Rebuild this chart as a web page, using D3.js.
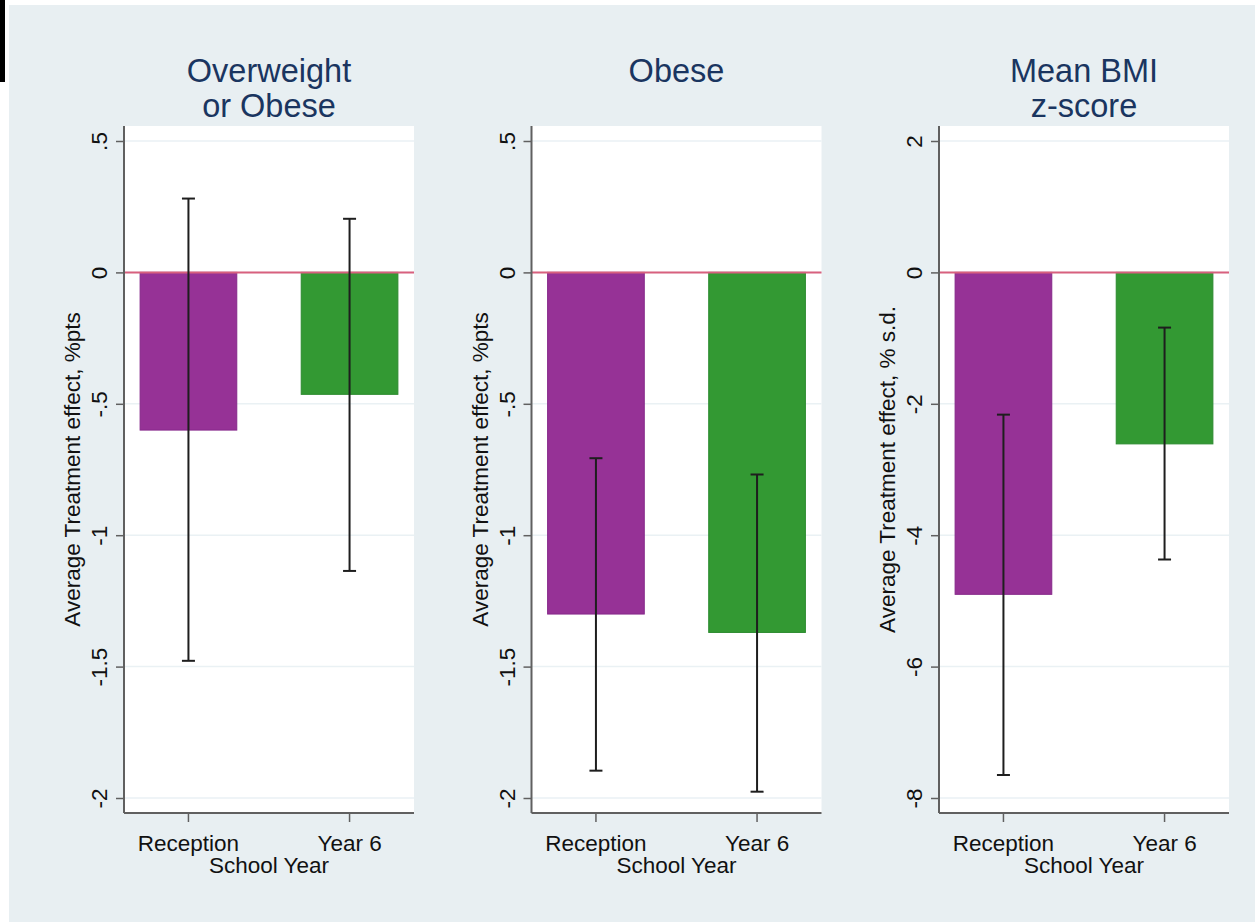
<!DOCTYPE html>
<html>
<head>
<meta charset="utf-8">
<script src="https://cdn.jsdelivr.net/npm/d3@7"></script>
<style>
  html, body { margin: 0; padding: 0; background: #ffffff; }
  svg { display: block; font-family: "Liberation Sans", Arial, sans-serif; }
</style>
</head>
<body>
<svg id="chart" width="1255" height="922"></svg>
<script>
// School years on the x axis of every panel
const categories = ["Reception", "Year 6"];

// Panel titles (one array of lines per panel)
const panelTitles = [["Overweight", "or Obese"], ["Obese"], ["Mean BMI", "z-score"]];

// Y axis titles
const yTitles = [
  "Average Treatment effect, %pts",
  "Average Treatment effect, %pts",
  "Average Treatment effect, % s.d."
];

// Y tick values and their labels
const yTicksPct = [0.5, 0, -0.5, -1, -1.5, -2];
const yTickLabelsPct = [".5", "0", "-.5", "-1", "-1.5", "-2"];
const yTicksSd = [2, 0, -2, -4, -6, -8];
const yTickLabelsSd = ["2", "0", "-2", "-4", "-6", "-8"];

// Point estimates (Reception, Year 6)
const overweightObese = [-0.60, -0.464];
const obese = [-1.30, -1.37];
const bmiZ = [-4.90, -2.61];

// 95% confidence interval bounds (Reception, Year 6)
const overweightObeseLow = [-1.478, -1.136];
const overweightObeseHigh = [0.281, 0.204];
const obeseLow = [-1.896, -1.976];
const obeseHigh = [-0.707, -0.769];
const bmiZLow = [-7.65, -4.37];
const bmiZHigh = [-2.165, -0.84];

const barColors = ["#963296", "#339933"];
const barStrokes = ["#86288a", "#2b8a2e"];

const panels = [
  { title: panelTitles[0], yTitle: yTitles[0], ticks: yTicksPct, tickLabels: yTickLabelsPct,
    domain: [-2, 0.5], values: overweightObese, low: overweightObeseLow, high: overweightObeseHigh },
  { title: panelTitles[1], yTitle: yTitles[1], ticks: yTicksPct, tickLabels: yTickLabelsPct,
    domain: [-2, 0.5], values: obese, low: obeseLow, high: obeseHigh },
  { title: panelTitles[2], yTitle: yTitles[2], ticks: yTicksSd, tickLabels: yTickLabelsSd,
    domain: [-8, 2], values: bmiZ, low: bmiZLow, high: bmiZHigh }
];

const svg = d3.select("#chart");
const W = 1255, H = 922;

// Outer frame: white margin, graph region background, small dark mark at top-left
svg.append("rect").attr("x", 0).attr("y", 0).attr("width", W).attr("height", H).attr("fill", "#ffffff");
svg.append("rect").attr("x", 9).attr("y", 5).attr("width", W - 9).attr("height", H - 5).attr("fill", "#e8eff2");
svg.append("rect").attr("x", 0).attr("y", 0).attr("width", 5).attr("height", 82).attr("fill", "#000000");

const plotTop = 126, plotBottom = 813, plotW = 290, inset = 15;
const firstLeft = 124, panelStep = 407.5;
const fontSize = 22.5;

panels.forEach((p, i) => {
  const left = firstLeft + i * panelStep;
  const g = svg.append("g").attr("transform", `translate(${left},0)`);

  const x = d3.scaleBand().domain(categories).range([0, plotW])
    .paddingInner(0.4).paddingOuter(0.1);
  const y = d3.scaleLinear().domain(p.domain).range([plotBottom - inset, plotTop + inset]);

  // plot region
  g.append("rect").attr("x", 0).attr("y", plotTop).attr("width", plotW)
    .attr("height", plotBottom - plotTop).attr("fill", "#ffffff");

  // grid lines
  g.selectAll("line.grid").data(p.ticks).join("line").attr("class", "grid")
    .attr("x1", 0).attr("x2", plotW)
    .attr("y1", d => y(d)).attr("y2", d => y(d))
    .attr("stroke", "#eaf1f4").attr("stroke-width", 1.5);

  // bars from zero to the estimate
  g.selectAll("rect.bar").data(p.values).join("rect").attr("class", "bar")
    .attr("x", (d, j) => x(categories[j]))
    .attr("width", x.bandwidth())
    .attr("y", d => y(Math.max(0, d)))
    .attr("height", d => Math.abs(y(d) - y(0)))
    .attr("fill", (d, j) => barColors[j])
    .attr("stroke", (d, j) => barStrokes[j]).attr("stroke-width", 1);

  // reference line at zero
  g.append("line").attr("x1", 0).attr("x2", plotW)
    .attr("y1", y(0)).attr("y2", y(0))
    .attr("stroke", "#d8607e").attr("stroke-width", 2);

  // confidence intervals
  const cap = 6.5;
  categories.forEach((c, j) => {
    const cx = x(c) + x.bandwidth() / 2;
    const ci = g.append("g").attr("stroke", "#1e1e1e").attr("stroke-width", 2);
    ci.append("line").attr("x1", cx).attr("x2", cx).attr("y1", y(p.low[j])).attr("y2", y(p.high[j]));
    ci.append("line").attr("x1", cx - cap).attr("x2", cx + cap).attr("y1", y(p.low[j])).attr("y2", y(p.low[j]));
    ci.append("line").attr("x1", cx - cap).attr("x2", cx + cap).attr("y1", y(p.high[j])).attr("y2", y(p.high[j]));
  });

  // y axis
  const yAxis = d3.axisLeft(y).tickValues(p.ticks)
    .tickFormat((d, k) => p.tickLabels[k]).tickSize(8).tickPadding(9);
  const ya = g.append("g").call(yAxis);
  ya.select(".domain").attr("d", `M0,${plotTop}V${plotBottom}`).attr("stroke", "#606060").attr("stroke-width", 2);
  ya.selectAll(".tick line").attr("stroke", "#606060").attr("stroke-width", 1.5);
  ya.selectAll(".tick text")
    .attr("font-size", fontSize).attr("fill", "#111111")
    .attr("font-family", "'Liberation Sans', Arial, sans-serif")
    .attr("x", null).attr("dy", null)
    .attr("text-anchor", "middle")
    .attr("transform", "translate(-17,0) rotate(-90)");

  // x axis
  const xAxis = d3.axisBottom(x).tickSize(9).tickPadding(14);
  const xa = g.append("g").attr("transform", `translate(0,${plotBottom})`).call(xAxis);
  xa.select(".domain").attr("d", `M0,0H${plotW}`).attr("stroke", "#606060").attr("stroke-width", 2);
  xa.selectAll(".tick line").attr("stroke", "#606060").attr("stroke-width", 1.5);
  xa.selectAll(".tick text")
    .attr("font-size", fontSize).attr("fill", "#111111")
    .attr("font-family", "'Liberation Sans', Arial, sans-serif")
    .attr("dy", null).attr("y", 851 - plotBottom);

  // x axis title
  g.append("text").attr("x", plotW / 2).attr("y", 873)
    .attr("text-anchor", "middle").attr("font-size", fontSize).attr("fill", "#111111")
    .text("School Year");

  // y axis title
  g.append("text")
    .attr("transform", `translate(-44,${(plotTop + plotBottom) / 2}) rotate(-90)`)
    .attr("text-anchor", "middle").attr("font-size", fontSize).attr("fill", "#111111")
    .text(p.yTitle);

  // panel title
  g.append("text").attr("text-anchor", "middle").attr("font-size", 32.5).attr("fill", "#1a3560")
    .selectAll("tspan").data(p.title).join("tspan")
    .attr("x", plotW / 2).attr("y", (d, k) => 82 + k * 34.5)
    .text(d => d);
});
</script>
</body>
</html>
